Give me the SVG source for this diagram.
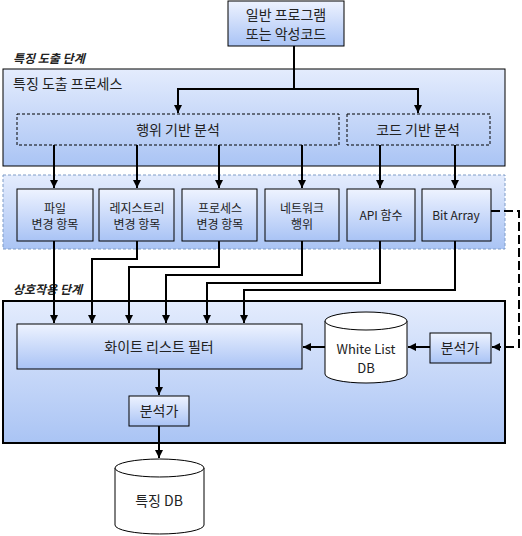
<svg xmlns="http://www.w3.org/2000/svg" width="522" height="536" viewBox="0 0 522 536">
<defs>
<linearGradient id="g" x1="0" y1="0" x2="0" y2="1">
<stop offset="0" stop-color="#eef3ff"/>
<stop offset="1" stop-color="#a9c3f5"/>
</linearGradient>
<linearGradient id="gb" x1="0" y1="0" x2="0" y2="1">
<stop offset="0" stop-color="#e4ecfd"/>
<stop offset="1" stop-color="#aac4f4"/>
</linearGradient>
<marker id="ah" viewBox="0 0 10 10" refX="10" refY="5" markerWidth="8" markerHeight="8" markerUnits="userSpaceOnUse" orient="auto">
<path d="M0,0 L10,5 L0,10 Z" fill="#000"/>
</marker>
</defs>
<style>
text{font-family:"Noto Sans CJK KR","Malgun Gothic",sans-serif;fill:#222;text-anchor:middle;dominant-baseline:central}
.box{fill:url(#g);stroke:#000;stroke-width:1}
.big{fill:url(#gb);stroke:#000;stroke-width:1}
.dash{fill:none;stroke:#000;stroke-width:1;stroke-dasharray:3,2}
.c{fill:none;stroke:#000;stroke-width:2}
.lbl{font-size:12px;font-weight:bold;font-style:italic;text-anchor:start}
.t14{font-size:14px}
.t13{font-size:13px}
.t12{font-size:12px}
.cyl{fill:#fff;stroke:#000;stroke-width:1}
</style>

<g id="source">
<rect class="box" x="228" y="1" width="116" height="45"/>
<text class="t14" x="286" y="14">일반 프로그램</text>
<text class="t14" x="286" y="33">또는 악성코드</text>
</g>

<text class="lbl" x="13" y="57">특징 도출 단계</text>

<g id="process">
<rect class="big" x="3" y="69" width="502" height="97"/>
<text class="t14" x="13" y="83" style="text-anchor:start">특징 도출 프로세스</text>
</g>
<g id="behavior">
<rect class="dash" x="17" y="114" width="322" height="31"/>
<text class="t14" x="178" y="129">행위 기반 분석</text>
</g>
<g id="code">
<rect class="dash" x="347" y="114" width="143" height="31"/>
<text class="t14" x="418" y="129">코드 기반 분석</text>
</g>

<g id="items-group">
<rect x="3" y="175" width="502" height="74" fill="url(#gb)" stroke="#7f9cc8" stroke-width="1" stroke-dasharray="3,2"/>
</g>
<g id="file">
<rect class="box" x="17" y="189" width="76" height="52"/>
<text class="t12" x="55" y="207">파일</text>
<text class="t12" x="55" y="223">변경 항목</text>
</g>
<g id="registry">
<rect class="box" x="99" y="189" width="75" height="52"/>
<text class="t12" x="137" y="207">레지스트리</text>
<text class="t12" x="137" y="223">변경 항목</text>
</g>
<g id="proc">
<rect class="box" x="182" y="189" width="75" height="52"/>
<text class="t12" x="220" y="207">프로세스</text>
<text class="t12" x="220" y="223">변경 항목</text>
</g>
<g id="network">
<rect class="box" x="265" y="189" width="74" height="52"/>
<text class="t12" x="302" y="207">네트워크</text>
<text class="t12" x="302" y="223">행위</text>
</g>
<g id="api">
<rect class="box" x="347" y="189" width="68" height="52"/>
<text class="t12" x="381" y="214">API 함수</text>
</g>
<g id="bitarray">
<rect class="box" x="422" y="189" width="69" height="52"/>
<text class="t12" x="456" y="214">Bit Array</text>
</g>

<text class="lbl" x="13" y="288">상호작용 단계</text>

<g id="interaction">
<rect x="3" y="301" width="502" height="142" fill="url(#gb)" stroke="#000" stroke-width="2"/>
</g>
<g id="filter">
<rect class="box" x="17" y="324" width="285" height="45"/>
<text class="t14" x="159" y="346">화이트 리스트 필터</text>
</g>
<g id="whitelistdb">
<path class="cyl" d="M325,321 A41,9 0 0 1 407,321 V374 A41,9 0 0 1 325,374 Z"/>
<path class="cyl" fill="none" d="M325,321 A41,9 0 0 0 407,321"/>
<text class="t13" x="366" y="348">White List</text>
<text class="t13" x="366" y="367">DB</text>
</g>
<g id="analyst1">
<rect class="box" x="430" y="333" width="61" height="30"/>
<text class="t14" x="460" y="347">분석가</text>
</g>
<g id="analyst2">
<rect class="box" x="129" y="396" width="60" height="30"/>
<text class="t14" x="159" y="410">분석가</text>
</g>
<g id="featuredb">
<path class="cyl" d="M115,468 A44.5,9 0 0 1 204,468 V525 A44.5,9 0 0 1 115,525 Z"/>
<path class="cyl" fill="none" d="M115,468 A44.5,9 0 0 0 204,468"/>
<text class="t14" x="159" y="500">특징 DB</text>
</g>

<g id="connectors">
<path class="c" d="M294,46 V89"/>
<path class="c" d="M294,89 H178 V113" marker-end="url(#ah)"/>
<path class="c" d="M294,89 H418 V113" marker-end="url(#ah)"/>
<path class="c" d="M54,145 V188" marker-end="url(#ah)"/>
<path class="c" d="M137,145 V188" marker-end="url(#ah)"/>
<path class="c" d="M219,145 V188" marker-end="url(#ah)"/>
<path class="c" d="M302,145 V188" marker-end="url(#ah)"/>
<path class="c" d="M380,145 V188" marker-end="url(#ah)"/>
<path class="c" d="M455,145 V188" marker-end="url(#ah)"/>
<path class="c" d="M54,241 V323" marker-end="url(#ah)"/>
<path class="c" d="M137,241 V259 H92 V323" marker-end="url(#ah)"/>
<path class="c" d="M219,241 V267 H129 V323" marker-end="url(#ah)"/>
<path class="c" d="M302,241 V275 H166 V323" marker-end="url(#ah)"/>
<path class="c" d="M380,241 V283 H207 V323" marker-end="url(#ah)"/>
<path class="c" d="M455,241 V290 H244 V323" marker-end="url(#ah)"/>
<path class="c" d="M491,211 H519 V347 H492" stroke-dasharray="9,4" marker-end="url(#ah)"/>
<path class="c" d="M430,347 H408" marker-end="url(#ah)"/>
<path class="c" d="M325,347 H303" marker-end="url(#ah)"/>
<path class="c" d="M159,369 V395" marker-end="url(#ah)"/>
<path class="c" d="M159,426 V458" marker-end="url(#ah)"/>
</g>
</svg>
